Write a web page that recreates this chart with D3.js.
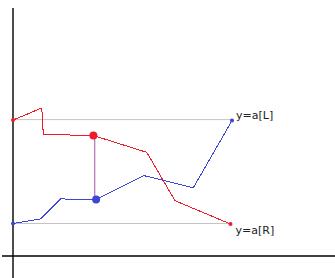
<!DOCTYPE html>
<html>
<head>
<meta charset="utf-8">
<script src="https://cdn.jsdelivr.net/npm/d3@7"></script>
<style>
  body { margin: 0; background: #fff; }
  svg { display: block; }
</style>
</head>
<body>
<div id="canvas"></div>
<script>
"use strict"

/* values, in chart units */
let redX  = [0, 9.6, 10.1, 26.8, 44.6, 54.0, 72.5];
let redY  = [54.8, 59.7, 49.0, 48.6, 41.8, 22.3, 12.9];
let blueX = [0, 9.3, 16.0, 22.0, 27.7, 43.7, 60.1, 73.0];
let blueY = [13.1, 15.0, 23.1, 22.6, 22.8, 32.4, 27.5, 54.6];

let aL = 55.0, aR = 13.1;     // the two grey guide levels
let guideEnd = [73.0, 72.5];
let labels = ["y=a[L]", "y=a[R]"];
let redMid = 3, blueMid = 4;  // the big dots

const W = 335, H = 278;

let drawing = d3.select("#canvas")
    .append("svg")
    .attr("width", W)
    .attr("height", H);

let x = d3.scaleLinear().domain([0, 100]).range([13, 313]);
let y = d3.scaleLinear().domain([0, 100]).range([256, 8]);

let line = d3.line().x(d => x(d[0])).y(d => y(d[1]));

// axes
drawing.append("line")
    .attr("x1", x(0)).attr("x2", x(0))
    .attr("y1", y(100)).attr("y2", H)
    .attr("stroke", "#000").attr("stroke-width", 1.4);
drawing.append("line")
    .attr("x1", 2).attr("x2", W)
    .attr("y1", y(0)).attr("y2", y(0))
    .attr("stroke", "#000").attr("stroke-width", 1.4);

// grey guides
[aL, aR].forEach((v, i) => {
    drawing.append("line")
        .attr("x1", x(0)).attr("x2", x(guideEnd[i]))
        .attr("y1", y(v)).attr("y2", y(v))
        .attr("stroke", "#c4c4c4").attr("stroke-width", 1);
});

let red = d3.zip(redX, redY);
let blue = d3.zip(blueX, blueY);

// connector between the two big dots
drawing.append("line")
    .attr("x1", x((redX[redMid] + blueX[blueMid]) / 2))
    .attr("x2", x((redX[redMid] + blueX[blueMid]) / 2))
    .attr("y1", y(redY[redMid])).attr("y2", y(blueY[blueMid]))
    .attr("stroke", "#a352a8").attr("stroke-width", 1);

drawing.append("path").datum(red)
    .attr("d", line)
    .attr("fill", "none").attr("stroke", "#ee1c2a").attr("stroke-width", 1)
    .attr("shape-rendering", "crispEdges");
drawing.append("path").datum(blue)
    .attr("d", line)
    .attr("fill", "none").attr("stroke", "#3d45d6").attr("stroke-width", 1)
    .attr("shape-rendering", "crispEdges");

// end dots
let ends = [
    [red[0], "#ee1c2a"], [red[red.length - 1], "#ee1c2a"],
    [blue[0], "#3d45d6"], [blue[blue.length - 1], "#3d45d6"]
];
drawing.selectAll(".end").data(ends).enter().append("circle")
    .attr("cx", d => x(d[0][0])).attr("cy", d => y(d[0][1]))
    .attr("r", 2).attr("fill", d => d[1]);

drawing.append("circle")
    .attr("cx", x(redX[redMid])).attr("cy", y(redY[redMid]))
    .attr("r", 4).attr("fill", "#ee1c2a");
drawing.append("circle")
    .attr("cx", x(blueX[blueMid])).attr("cy", y(blueY[blueMid]))
    .attr("r", 4).attr("fill", "#3d45d6");

// labels
drawing.append("text")
    .attr("x", x(blueX[blueX.length - 1]) + 4)
    .attr("y", y(aL) - 1)
    .text(labels[0]);
drawing.append("text")
    .attr("x", x(redX[redX.length - 1]) + 5)
    .attr("y", y(aR) + 10)
    .text(labels[1]);

drawing.selectAll("text")
    .attr("font-family", "DejaVu Sans, sans-serif")
    .attr("font-size", 11)
    .attr("fill", "#222");
</script>
</body>
</html>
